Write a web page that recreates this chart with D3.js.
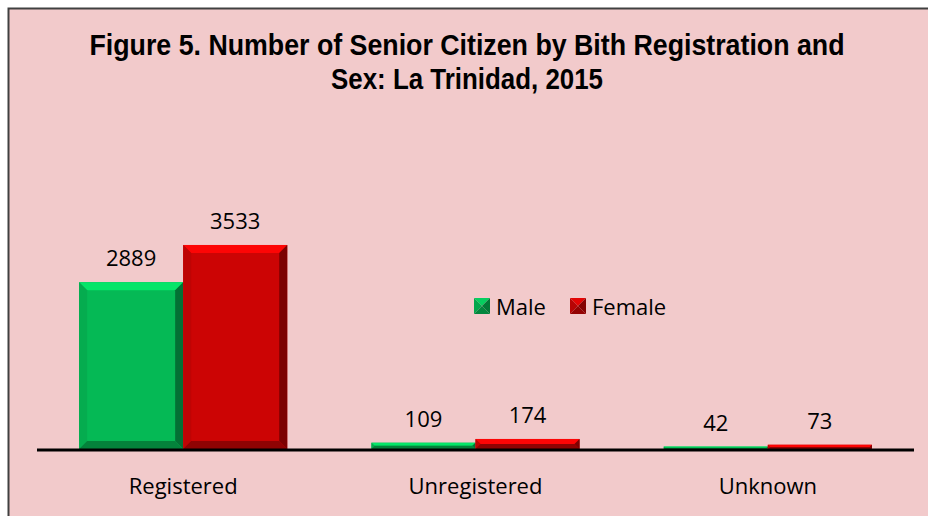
<!DOCTYPE html>
<html>
<head>
<meta charset="utf-8">
<script src="https://cdn.jsdelivr.net/npm/d3@7"></script>
<style>
  body { margin: 0; background: #fff; }
  svg { display: block; }
</style>
</head>
<body>
<div id="chart"></div>
<script>
// data
var categories = ["Registered", "Unregistered", "Unknown"];
var seriesNames = ["Male", "Female"];
var maleValues = [2889, 109, 42];
var femaleValues = [3533, 174, 73];
var seriesColors = ["#05B955", "#CC0404"];
var titleLines = ["Figure 5. Number of Senior Citizen by Bith Registration and", "Sex: La Trinidad, 2015"];

var width = 928, height = 516;

var svg = d3.select("#chart").append("svg")
  .attr("width", width)
  .attr("height", height);

// chart area frame
svg.append("rect")
  .attr("x", 8.5).attr("y", 8.5)
  .attr("width", width + 10).attr("height", height + 10)
  .attr("fill", "#F2CACB")
  .attr("stroke", "#404040")
  .attr("stroke-width", 2);

// title (narrow bold face is squeezed to the reference width)
var titleWidths = [755, 272];
svg.selectAll(".title")
  .data(titleLines)
  .enter().append("text")
  .attr("class", "title")
  .attr("x", 467)
  .attr("y", function(d, i) { return 55 + i * 34; })
  .attr("text-anchor", "middle")
  .attr("textLength", function(d, i) { return titleWidths[i]; })
  .attr("lengthAdjust", "spacingAndGlyphs")
  .style("font-family", "'Liberation Sans Narrow', 'Arial Narrow', 'Liberation Sans', Arial, sans-serif")
  .style("font-weight", "bold")
  .style("font-size", "29px")
  .style("fill", "#000")
  .text(function(d) { return d; });

var x0 = d3.scaleBand()
  .domain(categories)
  .range([37, 914])
  .paddingInner(0.288)
  .paddingOuter(0.144);

var x1 = d3.scaleBand()
  .domain(seriesNames)
  .range([0, x0.bandwidth()]);

var y = d3.scaleLinear()
  .domain([0, 4000])
  .range([449, 218]);

var color = d3.scaleOrdinal().domain(seriesNames).range(seriesColors);

var rows = categories.map(function(c, i) {
  return { cat: c, values: [
    { name: "Male", value: maleValues[i] },
    { name: "Female", value: femaleValues[i] }
  ]};
});

// bevelled bar
function bevelBar(g, xa, xb, ya, yb, c) {
  var base = d3.color(c);
  var h = yb - ya;
  var b = Math.min(8, h / 2, (xb - xa) / 2);
  g.append("rect")
    .attr("x", xa).attr("y", ya)
    .attr("width", xb - xa).attr("height", h)
    .attr("fill", base);
  if (b < 0.5) return;
  var poly = function(pts, fill) {
    g.append("polygon")
      .attr("points", pts.map(function(p) { return p.join(","); }).join(" "))
      .attr("fill", fill);
  };
  // top
  poly([[xa, ya], [xb, ya], [xb - b, ya + b], [xa + b, ya + b]], base.brighter(0.6));
  // left
  poly([[xa, ya], [xa + b, ya + b], [xa + b, yb - b], [xa, yb]], base.darker(0.2));
  // right
  poly([[xb, ya], [xb, yb], [xb - b, yb - b], [xb - b, ya + b]], base.darker(1.4));
  // bottom
  poly([[xa, yb], [xa + b, yb - b], [xb - b, yb - b], [xb, yb]], base.darker(1.0));
}

var groups = svg.selectAll(".cat")
  .data(rows)
  .enter().append("g")
  .attr("class", "cat")
  .attr("transform", function(d) { return "translate(" + x0(d.cat) + ",0)"; });

groups.each(function(d) {
  var g = d3.select(this);
  d.values.forEach(function(v) {
    var xa = x1(v.name), xb = xa + x1.bandwidth();
    bevelBar(g, xa, xb, y(v.value), y(0), color(v.name));
    g.append("text")
      .attr("x", xa + x1.bandwidth() / 2)
      .attr("y", y(v.value) - 16)
      .attr("text-anchor", "middle")
      .style("font-family", "'Open Sans', sans-serif")
      .style("font-size", "22px")
      .style("fill", "#000")
      .text(v.value);
  });
});

// category axis
var xAxis = svg.append("g")
  .attr("transform", "translate(0," + (y(0) + 1) + ")")
  .call(d3.axisBottom(x0).tickSize(0).tickPadding(28));
xAxis.select(".domain")
  .attr("d", "M37,0H914")
  .attr("stroke", "#000")
  .attr("stroke-width", 3);
xAxis.selectAll("text")
  .style("font-family", "'Open Sans', sans-serif")
  .style("font-size", "22px")
  .style("fill", "#000");

// legend
var legendX = [474, 570];
var legend = svg.selectAll(".legend")
  .data(seriesNames)
  .enter().append("g")
  .attr("class", "legend")
  .attr("transform", function(d, i) { return "translate(" + legendX[i] + ",298)"; });

legend.each(function(d) {
  var g = d3.select(this);
  var s = 16, c = d3.color(color(d)), m = s / 2;
  var tri = function(pts, fill) {
    g.append("polygon")
      .attr("points", pts.map(function(p) { return p.join(","); }).join(" "))
      .attr("fill", fill);
  };
  tri([[0, 0], [s, 0], [m, m]], c.brighter(0.3));
  tri([[0, 0], [m, m], [0, s]], c.darker(0.3));
  tri([[s, 0], [s, s], [m, m]], c.darker(1.2));
  tri([[0, s], [m, m], [s, s]], c.darker(0.9));
  g.append("text")
    .attr("x", s + 6)
    .attr("y", 17)
    .style("font-family", "'Open Sans', sans-serif")
    .style("font-size", "22px")
    .style("fill", "#000")
    .text(d);
});
</script>
</body>
</html>
